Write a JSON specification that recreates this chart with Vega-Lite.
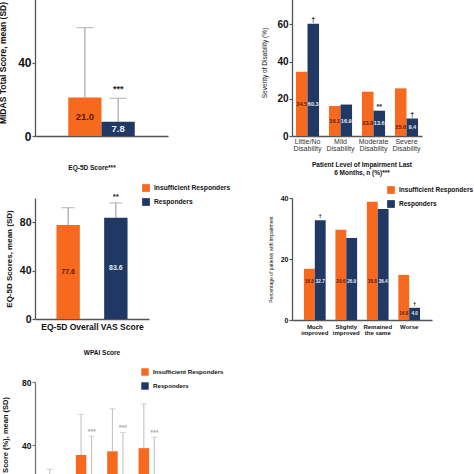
{
  "$schema": "https://vega.github.io/schema/vega-lite/v6.json",
  "background": "white",
  "padding": {"left": -2, "top": -24, "right": 0, "bottom": 0},
  "config": {
    "font": "Liberation Sans",
    "view": {"stroke": null},
    "axis": {"grid": false, "domainColor": "#555", "tickColor": "#555", "domainWidth": 1.3, "tickWidth": 1.2, "tickSize": 3, "labelColor": "#111", "titleColor": "#111", "labelPadding": 1, "labelOverlap": false, "labelFlush": false},
    "legend": {"orient": "none", "title": null, "symbolType": "square", "symbolStrokeWidth": 0, "labelColor": "#111", "labelFontWeight": "bold", "symbolOpacity": 1},
    "title": {"color": "#111", "fontWeight": "bold", "anchor": "middle"}
  },
  "bounds": "flush",
  "align": "none",
  "columns": 2,
  "spacing": {"row": 62, "column": 123},
  "resolve": {"scale": {"color": "independent", "xOffset": "independent", "x": "independent", "y": "independent"}, "axis": {"x": "independent", "y": "independent"}, "legend": {"color": "independent"}},
  "concat": [
    {
      "width": 133,
      "height": 147,
      "data": {"values": [
        {"measure": "MIDAS Total Score", "group": "Insufficient Responders", "mean": 21.0, "upper": 59, "label": "21.0", "sig": ""},
        {"measure": "MIDAS Total Score", "group": "Responders", "mean": 7.8, "upper": 20.5, "label": "7.8", "sig": "***"}
      ]},
      "transform": [{"calculate": "datum.mean / 2", "as": "ly"}],
      "encoding": {
        "x": {"field": "measure", "type": "nominal", "scale": {"paddingInner": 0, "paddingOuter": 0.5}, "axis": {"title": null, "labels": false, "ticks": false}},
        "xOffset": {"field": "group", "type": "nominal", "sort": ["Insufficient Responders", "Responders"], "scale": {"paddingInner": 0, "paddingOuter": 0}}
      },
      "layer": [
        {"mark": {"type": "rule", "color": "#a6a6a6", "strokeWidth": 1.2},
         "encoding": {"y": {"field": "mean", "type": "quantitative", "scale": {"domain": [0, 80], "nice": false}, "axis": {"values": [0, 20, 40, 60, 80], "labelOverlap": false, "title": "MIDAS Total Score, mean (SD)", "titleFontSize": 8.5, "titleFontWeight": "bold", "labelFontSize": 12, "labelFontWeight": "bold", "titlePadding": 10}}, "y2": {"field": "upper"}}},
        {"mark": {"type": "tick", "color": "#a6a6a6", "thickness": 1.2, "size": 17},
         "encoding": {"y": {"field": "upper", "type": "quantitative"}}},
        {"mark": {"type": "bar"},
         "encoding": {"y": {"field": "mean", "type": "quantitative"},
           "color": {"field": "group", "type": "nominal", "scale": {"domain": ["Insufficient Responders", "Responders"], "range": ["#f7691f", "#1f3864"]}, "legend": {"legendX": 104, "legendY": -13, "labelFontSize": 6.7, "symbolSize": 60, "rowPadding": 6}}}},
        {"mark": {"type": "text", "fontWeight": "bold", "fontSize": 9.5},
         "encoding": {"y": {"field": "ly", "type": "quantitative"}, "text": {"field": "label"},
           "color": {"condition": {"test": "datum.group === 'Responders'", "value": "#e8ecf5"}, "value": "#5c1a08"}}},
        {"mark": {"type": "text", "fontWeight": "bold", "fontSize": 9, "baseline": "bottom", "dy": -4, "color": "#222"},
         "encoding": {"y": {"field": "upper", "type": "quantitative"}, "text": {"field": "sig"}}}
      ]
    },
    {
      "width": 130,
      "height": 147,
      "data": {"values": [
        {"cat": "Little/No Disability", "group": "Insufficient Responders", "pct": 34.5, "label": "34.5", "sig": ""},
        {"cat": "Little/No Disability", "group": "Responders", "pct": 60.3, "label": "60.3", "sig": "†"},
        {"cat": "Mild Disability", "group": "Insufficient Responders", "pct": 16.1, "label": "16.1", "sig": ""},
        {"cat": "Mild Disability", "group": "Responders", "pct": 16.9, "label": "16.9", "sig": ""},
        {"cat": "Moderate Disability", "group": "Insufficient Responders", "pct": 23.8, "label": "23.8", "sig": ""},
        {"cat": "Moderate Disability", "group": "Responders", "pct": 13.6, "label": "13.6", "sig": "**"},
        {"cat": "Severe Disability", "group": "Insufficient Responders", "pct": 25.6, "label": "25.6", "sig": ""},
        {"cat": "Severe Disability", "group": "Responders", "pct": 9.4, "label": "9.4", "sig": "†"}
      ]},
      "transform": [
        {"joinaggregate": [{"op": "min", "field": "pct", "as": "gmin"}], "groupby": ["cat"]},
        {"calculate": "datum.gmin / 2", "as": "ly"}
      ],
      "encoding": {
        "x": {"field": "cat", "type": "nominal", "sort": null, "scale": {"paddingInner": 0.3, "paddingOuter": 0.12},
          "axis": {"title": null, "ticks": false, "labelAngle": 0, "labelFontSize": 7, "labelColor": "#333", "labelLineHeight": 7.5, "labelPadding": 1, "labelExpr": "split(datum.label, ' ')"}},
        "xOffset": {"field": "group", "type": "nominal", "sort": ["Insufficient Responders", "Responders"], "scale": {"paddingInner": 0, "paddingOuter": 0}}
      },
      "layer": [
        {"mark": {"type": "bar"},
         "encoding": {"y": {"field": "pct", "type": "quantitative", "scale": {"domain": [0, 79], "nice": false}, "axis": {"values": [0, 20, 40, 60], "labelOverlap": false, "title": "Severity of Disability (%)", "titleFontSize": 6.5, "titleFontWeight": "normal", "labelFontSize": 10, "labelFontWeight": "bold", "titlePadding": 9}},
           "color": {"field": "group", "type": "nominal", "scale": {"domain": ["Insufficient Responders", "Responders"], "range": ["#f7691f", "#1f3864"]}, "legend": null}}},
        {"mark": {"type": "text", "fontWeight": "bold", "fontSize": 5.6},
         "encoding": {"y": {"field": "ly", "type": "quantitative"}, "text": {"field": "label"},
           "color": {"condition": {"test": "datum.group === 'Responders'", "value": "#e8ecf5"}, "value": "#5c1a08"}}},
        {"mark": {"type": "text", "fontWeight": "bold", "fontSize": 7, "baseline": "alphabetic", "dy": -2, "color": "#222"},
         "encoding": {"y": {"field": "pct", "type": "quantitative"}, "text": {"field": "sig"}}}
      ]
    },
    {
      "width": 114,
      "height": 121,
      "title": {"text": "EQ-5D Score***", "fontSize": 6.5, "offset": 13},
      "data": {"values": [
        {"group": "Insufficient Responders", "mean": 77.6, "upper": 92, "label": "77.6", "sig": ""},
        {"group": "Responders", "mean": 83.6, "upper": 96, "label": "83.6", "sig": "**"}
      ]},
      "transform": [{"calculate": "datum.mean / 2", "as": "ly"}],
      "encoding": {
        "x": {"field": "group", "type": "nominal", "sort": ["Insufficient Responders", "Responders"], "scale": {"paddingInner": 0.51, "paddingOuter": 0.45},
          "axis": {"title": "EQ-5D Overall VAS Score", "labels": false, "ticks": false, "titleFontSize": 8.5, "titleFontWeight": "bold", "titlePadding": 3}}
      },
      "layer": [
        {"mark": {"type": "rule", "color": "#a6a6a6", "strokeWidth": 1.2},
         "encoding": {"y": {"field": "mean", "type": "quantitative", "scale": {"domain": [0, 100], "nice": false}, "axis": {"values": [0, 20, 40, 60, 80, 100], "labelOverlap": false, "title": "EQ-5D Scores, mean (SD)", "titleFontSize": 8, "titleFontWeight": "bold", "labelFontSize": 10.5, "labelFontWeight": "bold", "titlePadding": 6}}, "y2": {"field": "upper"}}},
        {"mark": {"type": "tick", "color": "#a6a6a6", "thickness": 1.2, "size": 13},
         "encoding": {"y": {"field": "upper", "type": "quantitative"}}},
        {"mark": {"type": "bar"},
         "encoding": {"y": {"field": "mean", "type": "quantitative"},
           "color": {"field": "group", "type": "nominal", "scale": {"domain": ["Insufficient Responders", "Responders"], "range": ["#f7691f", "#1f3864"]}, "legend": {"legendX": 107, "legendY": -14, "labelFontSize": 6.7, "symbolSize": 60, "rowPadding": 6}}}},
        {"mark": {"type": "text", "fontWeight": "bold", "fontSize": 7},
         "encoding": {"y": {"field": "ly", "type": "quantitative"}, "text": {"field": "label"},
           "color": {"condition": {"test": "datum.group === 'Responders'", "value": "#e8ecf5"}, "value": "#5c1a08"}}},
        {"mark": {"type": "text", "fontWeight": "bold", "fontSize": 8, "baseline": "bottom", "dy": -2, "color": "#222"},
         "encoding": {"y": {"field": "upper", "type": "quantitative"}, "text": {"field": "sig"}}}
      ]
    },
    {
      "width": 140,
      "height": 122,
      "title": {"text": ["Patient Level of Impairment Last", "6 Months, n (%)***"], "fontSize": 6.5, "lineHeight": 8, "offset": 10},
      "data": {"values": [
        {"cat": "Much improved", "group": "Insufficient Responders", "pct": 16.8, "label": "16.8", "sig": ""},
        {"cat": "Much improved", "group": "Responders", "pct": 32.7, "label": "32.7", "sig": "†"},
        {"cat": "Slightly improved", "group": "Insufficient Responders", "pct": 29.6, "label": "29.6", "sig": ""},
        {"cat": "Slightly improved", "group": "Responders", "pct": 26.9, "label": "26.9", "sig": ""},
        {"cat": "Remained the same", "group": "Insufficient Responders", "pct": 38.8, "label": "38.8", "sig": ""},
        {"cat": "Remained the same", "group": "Responders", "pct": 36.4, "label": "36.4", "sig": ""},
        {"cat": "Worse", "group": "Insufficient Responders", "pct": 14.8, "label": "14.8", "sig": ""},
        {"cat": "Worse", "group": "Responders", "pct": 4.0, "label": "4.0", "sig": "†"}
      ]},
      "transform": [
        {"joinaggregate": [{"op": "min", "field": "pct", "as": "gmin"}], "groupby": ["cat"]},
        {"calculate": "datum.gmin < 10 ? datum.gmin / 2 : 12.5", "as": "ly"}
      ],
      "encoding": {
        "x": {"field": "cat", "type": "nominal", "sort": null, "scale": {"paddingInner": 0.31, "paddingOuter": 0.38},
          "axis": {"title": null, "ticks": false, "labelAngle": 0, "labelFontSize": 6, "labelFontWeight": "bold", "labelLineHeight": 6.5, "labelPadding": 3, "labelExpr": "datum.label == 'Remained the same' ? ['Remained', 'the same'] : split(datum.label, ' ')"}},
        "xOffset": {"field": "group", "type": "nominal", "sort": ["Insufficient Responders", "Responders"], "scale": {"paddingInner": 0, "paddingOuter": 0}}
      },
      "layer": [
        {"mark": {"type": "bar"},
         "encoding": {"y": {"field": "pct", "type": "quantitative", "scale": {"domain": [0, 40], "nice": false}, "axis": {"values": [0, 10, 20, 30, 40], "labelOverlap": false, "title": "Percentage of patients with impairment", "titleFontSize": 5, "titleFontWeight": "normal", "labelFontSize": 7, "labelFontWeight": "bold", "titlePadding": 7}},
           "color": {"field": "group", "type": "nominal", "scale": {"domain": ["Insufficient Responders", "Responders"], "range": ["#f7691f", "#1f3864"]}, "legend": {"legendX": 95, "legendY": -12, "labelFontSize": 6.5, "symbolSize": 60, "rowPadding": 6}}}},
        {"mark": {"type": "text", "fontWeight": "bold", "fontSize": 4.6},
         "encoding": {"y": {"field": "ly", "type": "quantitative"}, "text": {"field": "label"},
           "color": {"condition": {"test": "datum.group === 'Responders'", "value": "#e8ecf5"}, "value": "#5c1a08"}}},
        {"mark": {"type": "text", "fontWeight": "bold", "fontSize": 6, "baseline": "alphabetic", "dy": -2, "color": "#222"},
         "encoding": {"y": {"field": "pct", "type": "quantitative"}, "text": {"field": "sig"}}}
      ]
    },
    {
      "width": 134,
      "height": 126,
      "title": {"text": "WPAI Score", "fontSize": 6.5, "offset": 12},
      "data": {"values": [
        {"cat": "Absenteeism", "group": "Insufficient Responders", "mean": 8.0, "upper": 24.6, "sig": ""},
        {"cat": "Absenteeism", "group": "Responders", "mean": 4.5, "upper": 15, "sig": ""},
        {"cat": "Presenteeism", "group": "Insufficient Responders", "mean": 33.7, "upper": 59.4, "sig": ""},
        {"cat": "Presenteeism", "group": "Responders", "mean": 19, "upper": 45.5, "sig": "***"},
        {"cat": "Overall Work Impairment", "group": "Insufficient Responders", "mean": 36.0, "upper": 63, "sig": ""},
        {"cat": "Overall Work Impairment", "group": "Responders", "mean": 21, "upper": 48, "sig": "***"},
        {"cat": "Activity Impairment", "group": "Insufficient Responders", "mean": 38.0, "upper": 66, "sig": ""},
        {"cat": "Activity Impairment", "group": "Responders", "mean": 19, "upper": 45, "sig": "***"}
      ]},
      "encoding": {
        "x": {"field": "cat", "type": "nominal", "sort": null, "scale": {"paddingInner": 0.33, "paddingOuter": 0.3},
          "axis": {"title": null, "ticks": false, "labelAngle": 0, "labelFontSize": 6, "labelFontWeight": "bold", "labelExpr": "split(datum.label, ' ')"}},
        "xOffset": {"field": "group", "type": "nominal", "sort": ["Insufficient Responders", "Responders"], "scale": {"paddingInner": 0, "paddingOuter": 0}}
      },
      "layer": [
        {"mark": {"type": "rule", "color": "#c4c4c4", "strokeWidth": 1.1},
         "encoding": {"y": {"field": "mean", "type": "quantitative", "scale": {"domain": [0, 80], "nice": false}, "axis": {"values": [0, 20, 40, 60, 80], "labelOverlap": false, "title": "WPAI Score (%), mean (SD)", "titleFontSize": 7.5, "titleFontWeight": "bold", "labelFontSize": 8.5, "labelFontWeight": "bold", "titlePadding": 12, "domainColor": "#777", "tickColor": "#777"}}, "y2": {"field": "upper"}}},
        {"mark": {"type": "tick", "color": "#c4c4c4", "thickness": 1.1, "size": 6},
         "encoding": {"y": {"field": "upper", "type": "quantitative"}}},
        {"mark": {"type": "bar"},
         "encoding": {"y": {"field": "mean", "type": "quantitative"},
           "color": {"field": "group", "type": "nominal", "scale": {"domain": ["Insufficient Responders", "Responders"], "range": ["#f7691f", "#1f3864"]}, "legend": {"legendX": 106, "legendY": -14, "labelFontSize": 6.2, "symbolSize": 55, "rowPadding": 6}}}},
        {"mark": {"type": "text", "fontWeight": "bold", "fontSize": 7, "baseline": "bottom", "dy": -1, "color": "#aaa"},
         "encoding": {"y": {"field": "upper", "type": "quantitative"}, "text": {"field": "sig"}}}
      ]
    }
  ]
}
